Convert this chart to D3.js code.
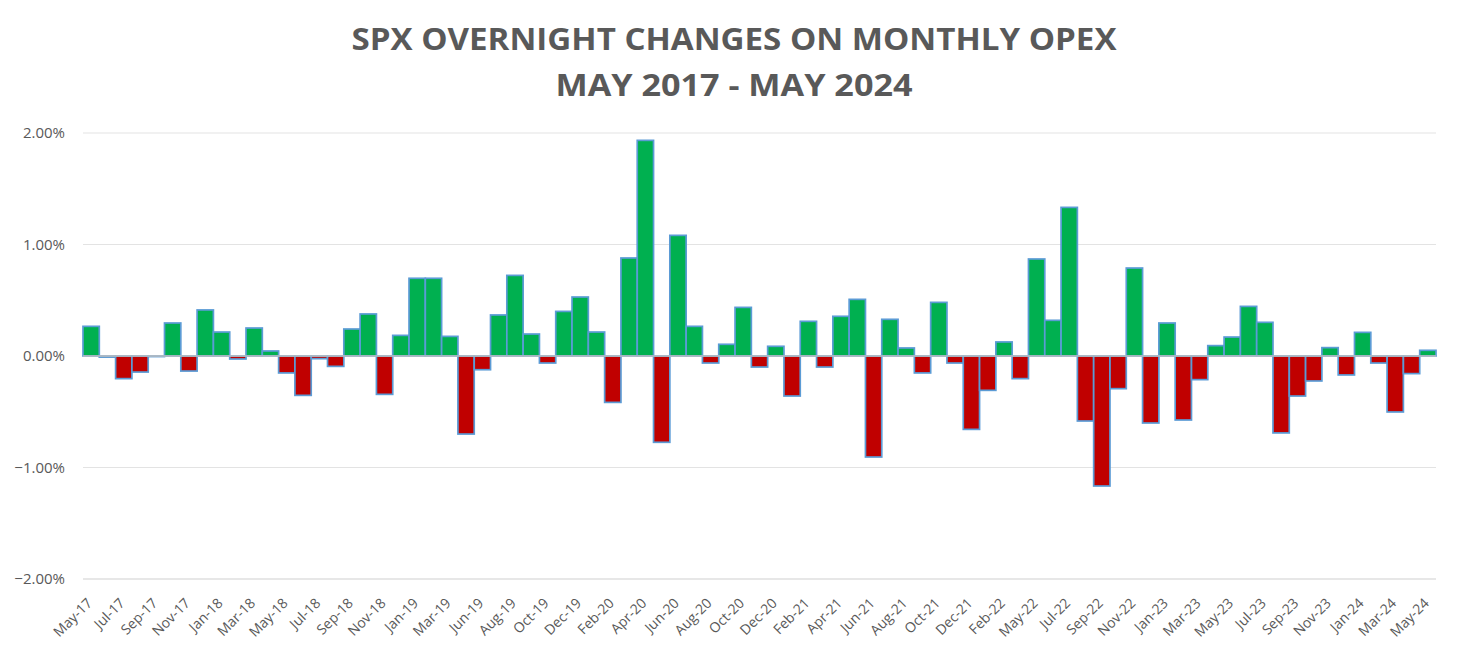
<!DOCTYPE html>
<html>
<head>
<meta charset="utf-8">
<script src="https://cdn.jsdelivr.net/npm/d3@7"></script>
<style>
    body { margin: 0; background: #fff; }
    text { font-family: "Open Sans", "Noto Sans", sans-serif; }
</style>
</head>
<body>
<main></main>
<script>
// months of the series (Apr-19 and Apr-22 are not in the data)
const months = [
    "May-17", "Jun-17", "Jul-17", "Aug-17", "Sep-17", "Oct-17", "Nov-17", "Dec-17",
    "Jan-18", "Feb-18", "Mar-18", "Apr-18", "May-18", "Jun-18", "Jul-18", "Aug-18", "Sep-18", "Oct-18", "Nov-18", "Dec-18",
    "Jan-19", "Feb-19", "Mar-19", "May-19", "Jun-19", "Jul-19", "Aug-19", "Sep-19", "Oct-19", "Nov-19", "Dec-19",
    "Jan-20", "Feb-20", "Mar-20", "Apr-20", "May-20", "Jun-20", "Jul-20", "Aug-20", "Sep-20", "Oct-20", "Nov-20", "Dec-20",
    "Jan-21", "Feb-21", "Mar-21", "Apr-21", "May-21", "Jun-21", "Jul-21", "Aug-21", "Sep-21", "Oct-21", "Nov-21", "Dec-21",
    "Jan-22", "Feb-22", "Mar-22", "May-22", "Jun-22", "Jul-22", "Aug-22", "Sep-22", "Oct-22", "Nov-22", "Dec-22",
    "Jan-23", "Feb-23", "Mar-23", "Apr-23", "May-23", "Jun-23", "Jul-23", "Aug-23", "Sep-23", "Oct-23", "Nov-23", "Dec-23",
    "Jan-24", "Feb-24", "Mar-24", "Apr-24", "May-24"
];

// overnight change in percent
const changes = [
    0.266, -0.01, -0.203, -0.144, -0.005, 0.296, -0.135, 0.413,
    0.215, -0.027, 0.251, 0.045, -0.152, -0.353, -0.024, -0.093, 0.242, 0.377, -0.344, 0.185,
    0.697, 0.697, 0.176, -0.70, -0.123, 0.368, 0.723, 0.197, -0.063, 0.40, 0.529,
    0.215, -0.416, 0.879, 1.934, -0.774, 1.082, 0.266, -0.063, 0.105, 0.436, -0.099, 0.087,
    -0.359, 0.311, -0.099, 0.356, 0.508, -0.906, 0.329, 0.072, -0.152, 0.481, -0.063, -0.658,
    -0.308, 0.126, -0.203, 0.870, 0.320, 1.333, -0.583, -1.166, -0.293, 0.789, -0.601,
    0.296, -0.574, -0.212, 0.093, 0.170, 0.445, 0.302, -0.690, -0.359, -0.224, 0.075, -0.170,
    0.212, -0.063, -0.502, -0.158, 0.051
];

const yTicks = [2, 1, 0, -1, -2];
const titleLines = ["SPX OVERNIGHT CHANGES ON MONTHLY OPEX", "MAY 2017 - MAY 2024"];

const drawChart = () => {
    const outerWidth = 1466, outerHeight = 661;
    const margin = {top: 133, right: 30, bottom: 82, left: 83};
    const width = 1436 - margin.left,
        height = 579 - margin.top;

    const data = months.map((m, i) => ({month: m, value: changes[i]}));

    const root = d3.select("main").append("svg")
        .attr("width", outerWidth)
        .attr("height", outerHeight);

    // title
    root.selectAll(".title")
        .data(titleLines)
        .enter()
        .append("text")
        .attr("class", "title")
        .attr("x", 734)
        .attr("y", (d, i) => 50 + i * 46)
        .attr("text-anchor", "middle")
        .attr("fill", "#595959")
        .attr("font-weight", "bold")
        .attr("font-size", 31)
        .attr("textLength", (d, i) => i === 0 ? 765 : 357)
        .attr("lengthAdjust", "spacingAndGlyphs")
        .text(d => d);

    const svg = root.append("g")
        .attr("transform", "translate(" + margin.left + "," + margin.top + ")");

    const xScale = d3.scaleBand().domain(months).range([0, width]).padding(0);
    const yScale = d3.scaleLinear().domain([-2, 2]).range([height, 0]);

    // gridlines
    svg.selectAll(".grid")
        .data(yTicks)
        .enter()
        .append("line")
        .attr("class", "grid")
        .attr("x1", 0)
        .attr("x2", width)
        .attr("y1", d => yScale(d))
        .attr("y2", d => yScale(d))
        .attr("stroke", d => d === -2 ? "#d0d0d0" : "#e3e3e3")
        .attr("stroke-width", 1.2);

    // y labels
    const yAxis = d3.axisLeft(yScale)
        .tickValues(yTicks)
        .tickSize(0)
        .tickPadding(18)
        .tickFormat(d => d3.format(".2f")(d) + "%");

    svg.append("g")
        .attr("class", "axis")
        .call(yAxis)
        .call(g => g.select(".domain").remove())
        .call(g => g.selectAll("text")
            .attr("fill", "#595959")
            .attr("font-size", 15));

    // bars
    svg.selectAll(".bar")
        .data(data)
        .enter()
        .append("rect")
        .attr("class", "bar")
        .attr("x", d => xScale(d.month))
        .attr("width", xScale.bandwidth())
        .attr("y", d => yScale(Math.max(0, d.value)))
        .attr("height", d => Math.abs(yScale(d.value) - yScale(0)))
        .attr("fill", d => d.value >= 0 ? "#00b050" : "#c00000")
        .attr("stroke", "#5b9bd5")
        .attr("stroke-width", 1.7);

    // zero line
    svg.append("line")
        .attr("x1", 0)
        .attr("x2", width)
        .attr("y1", yScale(0))
        .attr("y2", yScale(0))
        .attr("stroke", "#bfbfbf")
        .attr("stroke-width", 1.5);

    // x labels, every second month
    const xAxis = d3.axisBottom(xScale)
        .tickValues(months.filter((d, i) => i % 2 === 0))
        .tickSize(0)
        .tickPadding(0);

    svg.append("g")
        .attr("class", "axis")
        .attr("transform", "translate(0," + height + ")")
        .call(xAxis)
        .call(g => g.select(".domain").remove())
        .call(g => g.selectAll("text")
            .attr("fill", "#595959")
            .attr("font-size", 14)
            .attr("text-anchor", "end")
            .attr("dy", null)
            .attr("y", 0)
            .attr("transform", "translate(2,25) rotate(-45)"));
}

drawChart();
</script>
</body>
</html>
